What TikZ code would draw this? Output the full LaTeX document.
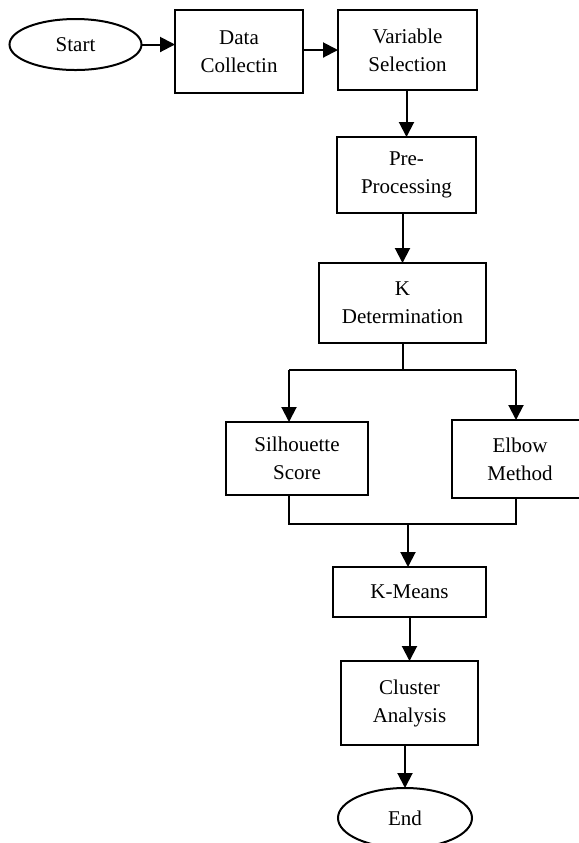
\documentclass[tikz,border=0pt]{standalone}
\usepackage{fontspec}
\setmainfont{Liberation Serif}
\usetikzlibrary{shapes.geometric,arrows.meta}
\begin{document}
\begin{tikzpicture}[x=0.5pt,y=-0.5pt,
  box/.style={draw,line width=1pt,rectangle,inner sep=0pt,outer sep=0pt,align=center,font=\fontsize{10.5}{14}\selectfont},
  oval/.style={draw,line width=1pt,ellipse,inner sep=0pt,outer sep=0pt,font=\fontsize{10.5}{14}\selectfont},
  conn/.style={line width=1pt},
  arr/.style={line width=1pt,-{Triangle[length=7.5pt,width=7.5pt]}}]
\useasboundingbox (0,0) rectangle (579,843);
\clip (0,0) rectangle (579,843);
\node[oval,minimum width=66pt,minimum height=25.5pt] (start) at (75.5,44.5) {Start};
\node[box,minimum width=64pt,minimum height=41.5pt] (data) at (239,51.5) {Data\\Collectin};
\node[box,minimum width=69.5pt,minimum height=40pt] (var) at (407.5,50) {Variable\\Selection};
\node[box,minimum width=69.5pt,minimum height=38pt] (pre) at (406.5,175) {Pre-\\Processing};
\node[box,minimum width=83.5pt,minimum height=40pt] (kdet) at (402.5,303) {K\\Determination};
\node[box,minimum width=71pt,minimum height=36.5pt] (sil) at (297,458.5) {Silhouette\\Score};
\node[box,minimum width=68pt,minimum height=39pt] (elbow) at (520,459) {Elbow\\Method};
\node[box,minimum width=76.5pt,minimum height=25pt] (kmeans) at (409.5,592) {K-Means};
\node[box,minimum width=68.5pt,minimum height=42pt] (cluster) at (409.5,703) {Cluster\\Analysis};
\node[oval,minimum width=67pt,minimum height=30pt] (end) at (405,818) {End};

\draw[arr] (start.east) -- (start.east -| data.west);
\draw[arr] (var.west -| data.east) -- (var.west);
\draw[arr] (var.south -| pre.north) -- (pre.north);
\draw[arr] (kdet.north |- pre.south) -- (kdet.north);

\coordinate (split) at (404,370);
\coordinate (sl) at (289,370);
\coordinate (el) at (516,370);
\draw[conn] (kdet.south) -- (kdet.south |- split);
\draw[conn] (sl) -- (el);
\draw[arr] (sl) -- (sl |- sil.north);
\draw[arr] (el) -- (el |- elbow.north);

\coordinate (jl) at (289,524);
\coordinate (jr) at (516,524);
\coordinate (join) at (408,524);
\draw[conn] (jl |- sil.south) -- (jl) -- (jr) -- (jr |- elbow.south);
\draw[arr] (join) -- (join |- kmeans.north);
\draw[arr] (kmeans.south) -- (cluster.north);
\draw[arr] (end.north |- cluster.south) -- (end.north);
\end{tikzpicture}
\end{document}
